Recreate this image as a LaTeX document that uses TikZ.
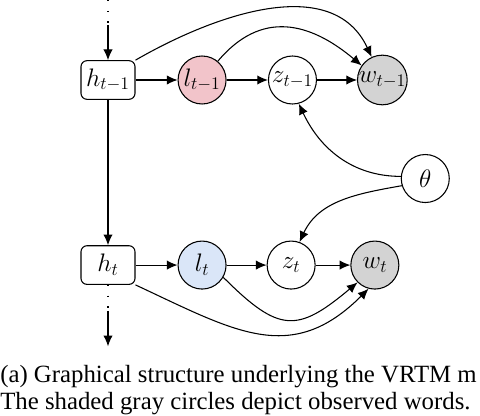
\RequirePackage{fix-cm}
\documentclass[tikz,border=0pt]{standalone}
\usepackage{fontspec}
\newfontfamily\capfont{Liberation Serif}
\usetikzlibrary{positioning,calc,arrows.meta}
\definecolor{pinkfill}{RGB}{242,196,202}
\definecolor{bluefill}{RGB}{218,230,248}
\definecolor{grayfill}{RGB}{211,211,211}

\begin{document}
\begin{tikzpicture}[font=\fontsize{19}{22}\selectfont]
	\tikzset{hidden/.style={draw,
				rectangle,
				rounded corners=4.5pt,
				minimum width=40.5pt,
				minimum height=29pt,
				inner sep=2pt,
				line width=0.8pt},
			var/.style={draw,
				circle,
				minimum size=36pt,
				inner sep=0pt,
				line width=0.8pt},
			arrow/.style={->,
				>={Latex[length=8pt,width=7pt]},
				line width=0.8pt},
			dots/.style={line width=1pt,
				dash pattern=on 1pt off 7pt},
			caption/.style={anchor=base west,
				inner sep=0pt,
				font=\fontsize{18.6}{20}\selectfont\capfont}}
	\useasboundingbox (-81pt,-252pt) rectangle (279pt,60pt);
	
	% Nodes
	\node[hidden] (h1) {$h_{t-1}$};
	\node[var, fill=pinkfill, right=31.5pt of h1] (l1) {$l_{t-1}$};
	\node[var, right=31pt of l1] (z1) {$z_{t-1}$};
	\node[var, fill=grayfill, right=30pt of z1] (w1) {$w_{t-1}$};
	
	\node[hidden, below=109pt of h1] (h2) {$h_t$};
	\node[var, fill=bluefill, right=31.5pt of h2] (l2) {$l_t$};
	\node[var, right=30pt of l2] (z2) {$z_t$};
	\node[var, fill=grayfill, right=26pt of z2] (w2) {$w_t$};
	
	\node[var] (theta) at ($(w1)!0.5!(w2)+(35pt,-4.5pt)$) {$\theta$};
	
	\coordinate[above=45pt of h1.north] (in0);
	\coordinate[above=26pt of h1.north] (in1);
	\coordinate[below=19.5pt of h2.south] (out0);
	\coordinate[below=46pt of h2.south] (out1);
	
	\node[caption] (cap1) at (-81pt,-227.25pt) {(a) Graphical structure underlying the VRTM m};
	\node[caption] (cap2) at (-81pt,-247.5pt) {The shaded gray circles depict observed words.};
	
	% Arrows
	\draw[dots] (in0) -- (in1);
	\draw[arrow] (in1) -- (h1);
	\draw[arrow] (h1) -- (l1);
	\draw[arrow] (l1) -- (z1);
	\draw[arrow] (z1) -- (w1);
	\draw[arrow] (h1.north east) to[out=30, in=115] (w1.115);
	\draw[arrow] (l1.50) to[out=50, in=140, looseness=1.2] (w1.145);
	
	\draw[arrow] (h1) -- (h2);
	\draw[arrow] (h2) -- (l2);
	\draw[arrow] (l2) -- (z2);
	\draw[arrow] (z2) -- (w2);
	\draw[arrow] (l2.-30) to[out=-45, in=-140, looseness=1.5] (w2.-135);
	\draw[arrow] (h2.south east) to[out=-25, in=-135, looseness=1.2] (w2.-105);
	\draw[dots] (h2) -- (out0);
	\draw[arrow] (out0) -- (out1);
	
	\draw[arrow] (theta.175) to[out=180, in=-65] (z1.-75);
	\draw[arrow] (theta.197) to[out=190, in=65] (z2.70);
\end{tikzpicture}
\end{document}
